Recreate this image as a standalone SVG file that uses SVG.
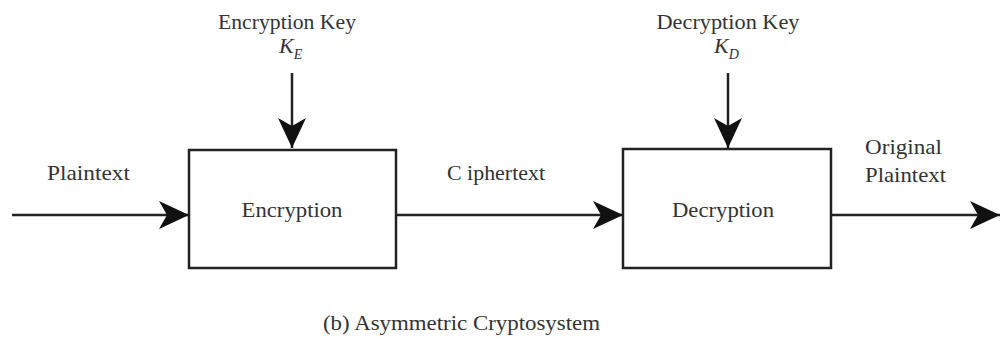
<svg xmlns="http://www.w3.org/2000/svg" width="1000" height="339" viewBox="0 0 1000 339">
<style>
text{font-family:"Liberation Serif","Times New Roman",serif;font-size:22px;fill:#333}
.c{text-anchor:middle}
.box{fill:#fff;stroke:#222;stroke-width:2.5}
.ln{stroke:#222;stroke-width:2.5;fill:none}
</style>
<defs>
<marker id="ah" viewBox="0 0 30 28" refX="30" refY="14" markerWidth="30" markerHeight="28" markerUnits="userSpaceOnUse" orient="auto">
<path d="M0,0 L30,14 L0,28 L8,14 Z" fill="#111"/>
</marker>
</defs>
<rect width="1000" height="339" fill="#fff"/>
<g id="connectors">
<line class="ln" x1="12" y1="215" x2="189" y2="215" marker-end="url(#ah)"/>
<line class="ln" x1="396" y1="215" x2="623" y2="215" marker-end="url(#ah)"/>
<line class="ln" x1="831" y1="215" x2="1000" y2="215" marker-end="url(#ah)"/>
<line class="ln" x1="292" y1="73" x2="292" y2="148" marker-end="url(#ah)"/>
<line class="ln" x1="728" y1="73" x2="728" y2="148" marker-end="url(#ah)"/>
</g>
<g id="encryption">
<rect class="box" x="189" y="150" width="207" height="118"/>
<text class="c" x="292" y="217" textLength="101" lengthAdjust="spacingAndGlyphs">Encryption</text>
</g>
<g id="decryption">
<rect class="box" x="623" y="149" width="208" height="119"/>
<text class="c" x="723" y="217" textLength="102" lengthAdjust="spacingAndGlyphs">Decryption</text>
</g>
<g id="encryption-key">
<text class="c" x="287" y="29" textLength="138" lengthAdjust="spacingAndGlyphs">Encryption Key</text>
<text x="279" y="53" font-style="italic">K<tspan font-size="14" dy="6">E</tspan></text>
</g>
<g id="decryption-key">
<text class="c" x="728" y="29" textLength="143" lengthAdjust="spacingAndGlyphs">Decryption Key</text>
<text x="714" y="53" font-style="italic">K<tspan font-size="14" dy="6">D</tspan></text>
</g>
<g id="labels">
<text x="47" y="180" textLength="83" lengthAdjust="spacingAndGlyphs">Plaintext</text>
<text x="447" y="180" textLength="98" lengthAdjust="spacingAndGlyphs">C iphertext</text>
<text x="865" y="154" textLength="77" lengthAdjust="spacingAndGlyphs">Original</text>
<text x="865" y="182" textLength="81" lengthAdjust="spacingAndGlyphs">Plaintext</text>
<text x="323" y="330" textLength="277" lengthAdjust="spacingAndGlyphs">(b)  Asymmetric Cryptosystem</text>
</g>
</svg>
